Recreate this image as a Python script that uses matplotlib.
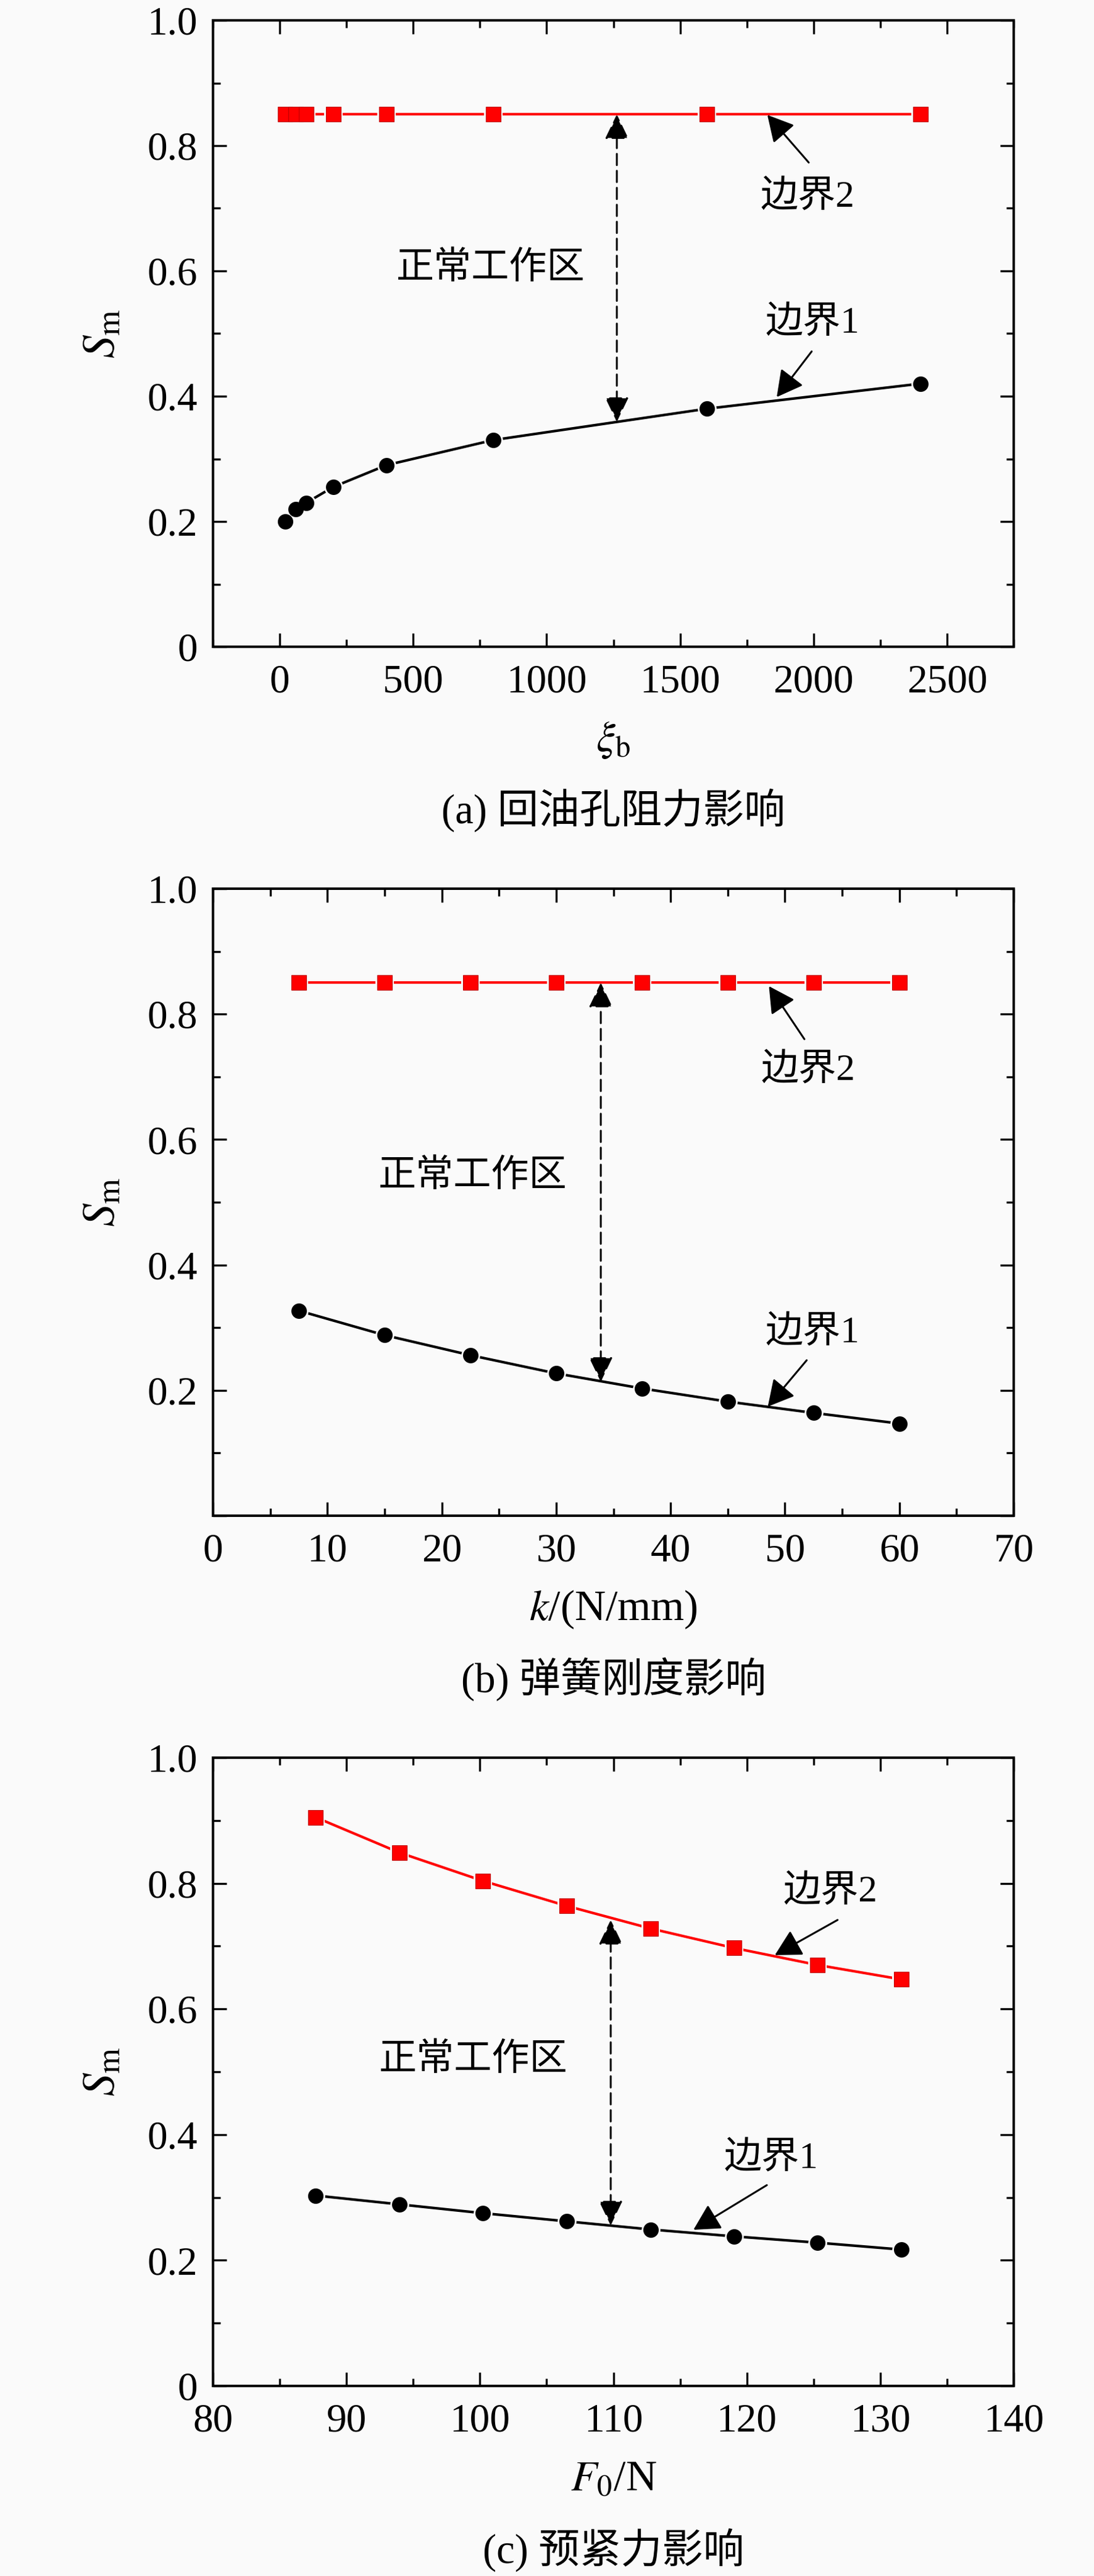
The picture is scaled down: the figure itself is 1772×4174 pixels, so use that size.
import matplotlib
matplotlib.use("Agg")
import matplotlib.pyplot as plt
from matplotlib.ticker import MultipleLocator, FixedLocator, FixedFormatter

plt.rcParams['font.family'] = ['Liberation Serif', 'Noto Sans CJK SC']
plt.rcParams['mathtext.fontset'] = 'stix'

# (a) return-hole resistance
xi_b = [20, 60, 100, 200, 400, 800, 1600, 2400]
a_bound1 = [0.20, 0.22, 0.23, 0.255, 0.29, 0.33, 0.38, 0.42]
a_bound2 = [0.85, 0.85, 0.85, 0.85, 0.85, 0.85, 0.85, 0.85]

# (b) spring stiffness
k_vals = [7.5, 15, 22.5, 30, 37.5, 45, 52.5, 60]
b_bound1 = [0.327, 0.288, 0.256, 0.227, 0.203, 0.182, 0.164, 0.147]
b_bound2 = [0.85, 0.85, 0.85, 0.85, 0.85, 0.85, 0.85, 0.85]

# (c) preload force
F0 = [87.7, 93.95, 100.2, 106.5, 112.8, 119.05, 125.3, 131.6]
c_bound1 = [0.303, 0.289, 0.275, 0.262, 0.249, 0.238, 0.228, 0.217]
c_bound2 = [0.905, 0.849, 0.804, 0.764, 0.728, 0.697, 0.670, 0.647]

yticks = [0, 0.2, 0.4, 0.6, 0.8, 1.0]
ytick_labels = ['0', '0.2', '0.4', '0.6', '0.8', '1.0']

bg = '#fafafa'
fig = plt.figure(figsize=(17.72, 41.74), dpi=100, facecolor=bg)

W, H = 1772, 4174
def add_ax(top, bottom):
    return fig.add_axes([345 / W, 1 - bottom / H, (1642 - 345) / W, (bottom - top) / H])

ax_a = add_ax(33, 1048)
ax_b = add_ax(1440, 2456)
ax_c = add_ax(2848, 3866)

panels = [
    dict(ax=ax_a, x=xi_b, b1=a_bound1, b2=a_bound2, xlim=(-250, 2750), minor=250,
         xticks=[0, 500, 1000, 1500, 2000, 2500],
         xlabel=r'$\xi_\mathrm{b}$', caption='(a) 回油孔阻力影响', zero=True,
         dash=(1263, 0.85, 0.359), work=(789, 0.603),
         t2=(1977, 0.718), a2=((1982, 0.773), (1827, 0.849)),
         t1=(1996, 0.517), a1=((1993, 0.4715), (1862, 0.3986))),
    dict(ax=ax_b, x=k_vals, b1=b_bound1, b2=b_bound2, xlim=(0, 70), minor=5,
         xticks=[0, 10, 20, 30, 40, 50, 60, 70],
         xlabel=r'$k$/(N/mm)', caption='(b) 弹簧刚度影响', zero=False,
         dash=(33.9, 0.85, 0.2136), work=(22.7, 0.541),
         t2=(52.0, 0.710), a2=((51.7, 0.760), (48.6, 0.8445)),
         t1=(52.4, 0.292), a1=((51.9, 0.248), (48.5, 0.174))),
    dict(ax=ax_c, x=F0, b1=c_bound1, b2=c_bound2, xlim=(80, 140), minor=5,
         xticks=[80, 90, 100, 110, 120, 130, 140],
         xlabel=r'$F_\mathrm{0}$/N', caption='(c) 预紧力影响', zero=True,
         dash=(109.8, 0.7417, 0.2554), work=(99.5, 0.518),
         t2=(126.25, 0.786), a2=((126.8, 0.7417), (122.1, 0.6857)),
         t1=(121.8, 0.3615), a1=((121.5, 0.3196), (116.0, 0.2485))),
]

cjk = 44
for p in panels:
    ax = p['ax']
    ax.set_facecolor(bg)
    # red boundary 2 (line, then a background halo so the line stops short of the markers)
    ax.plot(p['x'], p['b2'], '-', color='#ff0000', lw=3.0, zorder=3)
    ax.plot(p['x'], p['b2'], 's', color=bg, ms=21, mew=0, zorder=4)
    ax.plot(p['x'], p['b2'], 's', color='#ff0000', ms=17.5, mec='#c00000', mew=0.8, zorder=5)
    # black boundary 1
    ax.plot(p['x'], p['b1'], '-', color='black', lw=3.0, zorder=3)
    ax.plot(p['x'], p['b1'], 'o', color=bg, ms=22, mew=0, zorder=4)
    ax.plot(p['x'], p['b1'], 'o', color='black', ms=18, mew=0, zorder=5)

    ax.set_xlim(*p['xlim'])
    ax.set_ylim(0, 1.0)
    ax.xaxis.set_major_locator(FixedLocator(p['xticks']))
    ax.xaxis.set_minor_locator(MultipleLocator(p['minor']))
    ax.set_xticklabels([str(v) for v in p['xticks']])
    ax.yaxis.set_major_locator(FixedLocator(yticks))
    ax.yaxis.set_minor_locator(MultipleLocator(0.1))
    labs = list(ytick_labels)
    if not p['zero']:
        labs[0] = ''
    ax.yaxis.set_major_formatter(FixedFormatter(labs))

    for s in ax.spines.values():
        s.set_linewidth(2.9)
    ax.tick_params(which='both', direction='in', top=True, right=True, labelsize=47)
    ax.tick_params(which='major', length=16, width=2.4)
    ax.tick_params(which='minor', length=8.6, width=2.4)
    ax.tick_params(axis='y', pad=18)
    ax.tick_params(axis='x', pad=20)

    ax.set_xlabel(p['xlabel'], fontsize=50)
    ax.xaxis.set_label_coords(0.5, -152 / 1016)
    ax.xaxis.label.set_va('center')
    ax.set_ylabel(r'$S_\mathrm{m}$', fontsize=54)
    ax.yaxis.set_label_coords(-178 / 1297, 0.5)
    ax.yaxis.label.set_va('center')
    ax.text(0.5, -265 / 1016, p['caption'], transform=ax.transAxes, ha='center', va='center',
            fontsize=48)

    # double-headed dashed arrow
    dx, dtop, dbot = p['dash']
    ax.annotate('', xy=(dx, dtop), xytext=(dx, dbot),
                arrowprops=dict(arrowstyle='<|-|>,head_length=0.5,head_width=0.24', color='black',
                                lw=2.2, linestyle=(0, (6, 3)), mutation_scale=50,
                                shrinkA=0, shrinkB=0), zorder=6)
    ax.text(p['work'][0], p['work'][1], '正常工作区', ha='center', va='center', fontsize=cjk)

    ax.text(p['t2'][0], p['t2'][1], '边界2', ha='center', va='center', fontsize=cjk)
    ax.annotate('', xy=p['a2'][1], xytext=p['a2'][0],
                arrowprops=dict(arrowstyle='-|>,head_length=0.52,head_width=0.28', color='black',
                                lw=2.2, mutation_scale=50, shrinkA=0, shrinkB=0), zorder=6)
    ax.text(p['t1'][0], p['t1'][1], '边界1', ha='center', va='center', fontsize=cjk)
    ax.annotate('', xy=p['a1'][1], xytext=p['a1'][0],
                arrowprops=dict(arrowstyle='-|>,head_length=0.52,head_width=0.28', color='black',
                                lw=2.2, mutation_scale=50, shrinkA=0, shrinkB=0), zorder=6)

fig.savefig('out.png', dpi=100, facecolor=bg)
